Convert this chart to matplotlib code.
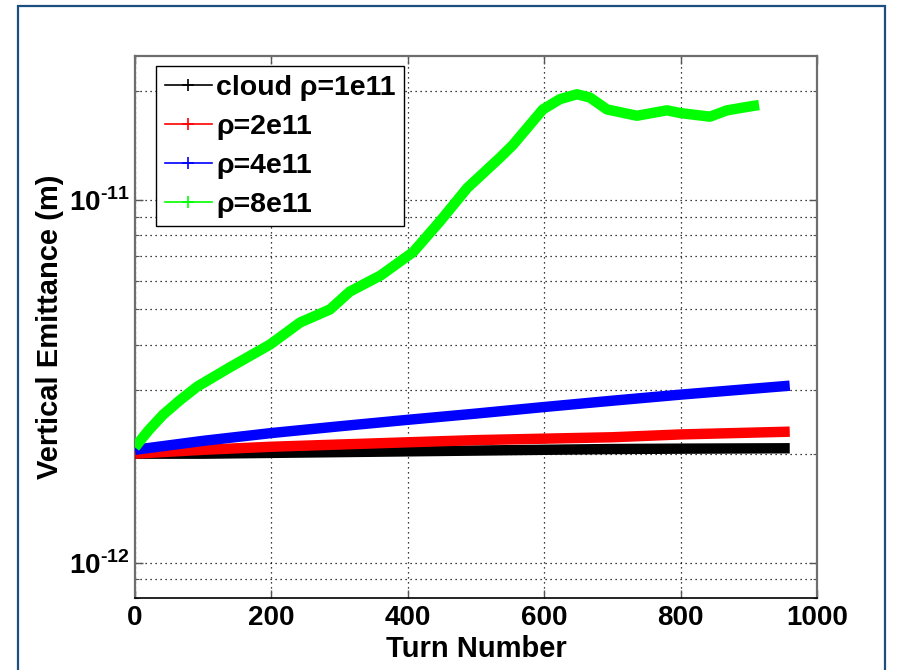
"""
Vertical emittance growth vs turn number for four electron-cloud densities.
MATLAB-style log plot: thick data bands, dotted grid, bold text.
"""

import matplotlib
matplotlib.use('Agg')
import matplotlib.pyplot as plt
from matplotlib.lines import Line2D
from matplotlib.patches import Rectangle
from matplotlib.ticker import LogLocator, NullFormatter, NullLocator


# ── data (emittance in units of 1e-12 m) ─────────────────────────────────
turns_flat = [0, 100, 200, 300, 400, 500, 600, 700, 800, 960]
emit_1e11 = [2.00, 2.00, 2.01, 2.02, 2.03, 2.04, 2.05, 2.06, 2.065, 2.07]
emit_2e11 = [2.00, 2.05, 2.09, 2.12, 2.15, 2.18, 2.20, 2.22, 2.26, 2.30]
emit_4e11 = [2.05, 2.17, 2.28, 2.38, 2.48, 2.58, 2.69, 2.80, 2.91, 3.08]

turns_8e11 = [0, 10, 20, 41, 65, 91, 139, 198, 242, 286, 315, 360, 408,
              447, 487, 535, 554, 598, 623, 648, 667, 692, 736, 780, 799,
              843, 868, 906, 915]
emit_8e11 = [2.08, 2.20, 2.32, 2.56, 2.80, 3.06, 3.46, 4.00, 4.60, 5.00,
             5.60, 6.20, 7.20, 8.74, 10.8, 13.1, 14.2, 17.8, 19.0, 19.6,
             19.2, 17.8, 17.1, 17.7, 17.4, 17.0, 17.7, 18.2, 18.3]

labels = ['cloud \u03c1=1e11', '\u03c1=2e11', '\u03c1=4e11', '\u03c1=8e11']
colors = ['#000000', '#ff0000', '#0000ff', '#00ff00']

x_ticks = [0, 200, 400, 600, 800, 1000]
y_ticks = [1e-12, 1e-11]
# MATLAB prints a plain hyphen in the exponent
y_tick_labels = [r'$\mathbf{10}^{\text{-12}}$', r'$\mathbf{10}^{\text{-11}}$']


plt.rcParams['font.family'] = ['Liberation Sans', 'DejaVu Sans']
plt.rcParams['font.weight'] = 'bold'
plt.rcParams['mathtext.fontset'] = 'custom'
plt.rcParams['mathtext.bf'] = 'Liberation Sans:bold'
plt.rcParams['mathtext.rm'] = 'Liberation Sans:bold'


def main():
    fig = plt.figure(figsize=(9, 6.7), dpi=100)
    ax = fig.add_axes([0.15, 0.1075, 0.7578, 0.8090])

    series = [
        (turns_flat, emit_1e11),
        (turns_flat, emit_2e11),
        (turns_flat, emit_4e11),
        (turns_8e11, emit_8e11),
    ]
    for (t, e), color in zip(series, colors):
        ax.plot(t, [v * 1e-12 for v in e], color=color, linewidth=7.5,
                solid_capstyle='butt', solid_joinstyle='round', zorder=3)

    ax.set_yscale('log')
    ax.set_xlim(0, 1000)
    ax.set_ylim(8e-13, 2.5e-11)

    ax.set_xticks(x_ticks)
    ax.set_xticklabels([str(v) for v in x_ticks])
    ax.xaxis.set_minor_locator(NullLocator())
    ax.set_yticks(y_ticks)
    ax.set_yticklabels(y_tick_labels)
    ax.yaxis.set_minor_locator(LogLocator(base=10, subs=range(2, 10)))
    ax.yaxis.set_minor_formatter(NullFormatter())

    ax.tick_params(which='both', direction='in', top=True, right=True,
                   color='#555555')
    ax.tick_params(which='major', length=6, width=1, labelsize=20)
    ax.tick_params(axis='x', which='major', pad=5)
    ax.tick_params(axis='y', which='major', pad=4)
    ax.tick_params(which='minor', length=3, width=0.8)

    # MATLAB-like dotted grid, minor lines on the log axis as well
    grid_style = dict(color='black', linestyle=(0, (1, 3)), linewidth=0.9)
    ax.grid(True, which='major', axis='both', **grid_style)
    ax.grid(True, which='minor', axis='y', **grid_style)

    for side in ('left', 'right', 'top'):
        ax.spines[side].set_color('#6e6e6e')
        ax.spines[side].set_linewidth(1.6)
    ax.spines['bottom'].set_color('black')
    ax.spines['bottom'].set_linewidth(1.2)

    ax.set_xlabel('Turn Number', fontsize=21, fontweight='bold', labelpad=3)
    ax.set_ylabel('Vertical Emittance (m)', fontsize=21, fontweight='bold',
                  labelpad=3)

    handles = [Line2D([], [], color=c, linewidth=1.2, marker='+',
                      markersize=8, markeredgewidth=1.2) for c in colors]
    leg = ax.legend(handles, labels, loc='upper left',
                    bbox_to_anchor=(0.031, 0.9815), borderaxespad=0,
                    fontsize=20.5, handlelength=1.65, handletextpad=0.15,
                    borderpad=0.3, labelspacing=0.46, fancybox=False,
                    framealpha=1, edgecolor='black')
    leg.get_frame().set_linewidth(1.0)
    for txt in leg.get_texts():
        txt.set_fontweight('bold')

    # dark blue frame around the whole figure
    fig.patches.append(Rectangle((18 / 900, -0.02), 867 / 900, 1.011,
                                 transform=fig.transFigure, fill=False,
                                 edgecolor='#1b4f80', linewidth=1.6))

    fig.savefig('out.png', dpi=100)
    plt.close(fig)


if __name__ == '__main__':
    main()
